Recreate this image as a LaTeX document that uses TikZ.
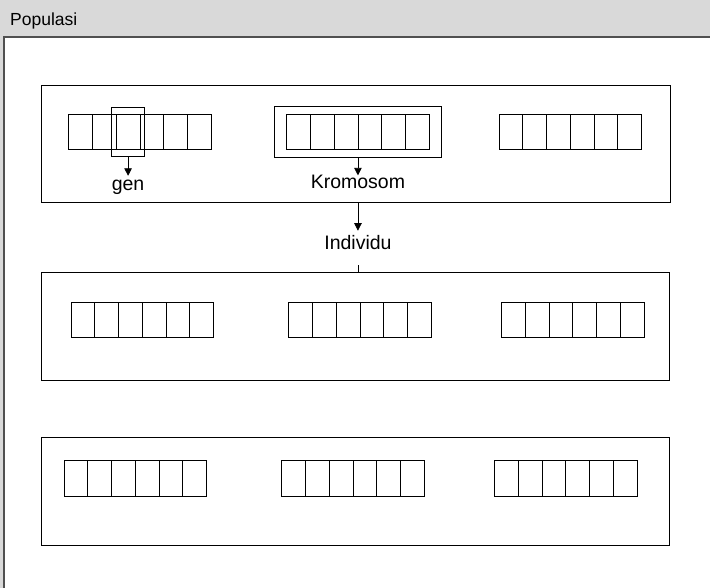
\documentclass[tikz,border=0pt]{standalone}
\usepackage{fontspec}
\setmainfont{Liberation Sans}
\usetikzlibrary{positioning, arrows.meta, fit}
\definecolor{bggray}{HTML}{D9D9D9}
\definecolor{framegray}{HTML}{505050}

\begin{document}
\begin{tikzpicture}[x=1pt, y=-1pt]
    \tikzset{
        rowbox/.style={rectangle, draw=black, line width=0.9pt, minimum width=628.5pt,
                       anchor=north west, inner sep=0pt},
        cell/.style={rectangle, draw=black, line width=0.8pt, minimum width=23.75pt,
                     minimum height=35.6pt, anchor=north west, inner sep=0pt},
        sel/.style={rectangle, draw=black, line width=0.8pt},
        txt/.style={font=\fontsize{19.5}{23}\selectfont, inner sep=0pt},
        arrow/.style={line width=0.8pt, -{Triangle[width=7.5pt,length=7.5pt]}}
    }
    \useasboundingbox (0,0) rectangle (710,588);
    \fill[bggray] (0,0) rectangle (710,588);
    \draw[framegray, fill=white, line width=1.5pt] (4,37) rectangle (720,600);
    \node[txt, font=\fontsize{17.5}{21}\selectfont, anchor=base west] (pop) at (10,26) {Populasi};
    % three rows of individuals
    \node[rowbox, minimum height=117pt] (row1) at (41,85) {};
    \node[rowbox, minimum height=107.7pt] (row2) at (40.5,272.3) {};
    \node[rowbox, minimum height=108.3pt] (row3) at (40.5,436.7) {};
    % chromosomes, six genes each
    \foreach \r/\y/\xa/\xb/\xc in {1/113.7/68.3/286.3/498.7, 2/301.7/70.7/288.3/501,
                                  3/460/63.7/281.3/494} {
        \foreach \k/\x in {1/\xa, 2/\xb, 3/\xc} {
            \foreach \i in {1,...,6} {
                \node[cell] (c\r\k\i) at ({\x+(\i-1)*23.75}, \y) {};
            }
        }
    }
    \node[sel, fit=(c113), inner xsep=4pt, inner ysep=6pt] (gensel) {};
    \node[sel, fit=(c121)(c126), inner xsep=12pt, inner ysep=7pt] (kromsel) {};
    \node[txt, anchor=base] (gen) at (gensel.south |- 0,190.5) {gen};
    \node[txt, anchor=base] (krom) at (kromsel.south |- 0,189) {Kromosom};
    \node[txt, anchor=base] (ind) at (kromsel.south |- 0,250) {Individu};
    \draw[arrow, shorten >=4pt] (gensel.south) -- (gen.north);
    \draw[arrow] (kromsel.south) -- (krom.north);
    \draw[arrow, shorten >=5pt] (ind |- row1.south) -- (ind.north);
    \draw[line width=0.8pt, shorten <=15pt] (ind.south) -- (ind |- row2.north);
\end{tikzpicture}
\end{document}
